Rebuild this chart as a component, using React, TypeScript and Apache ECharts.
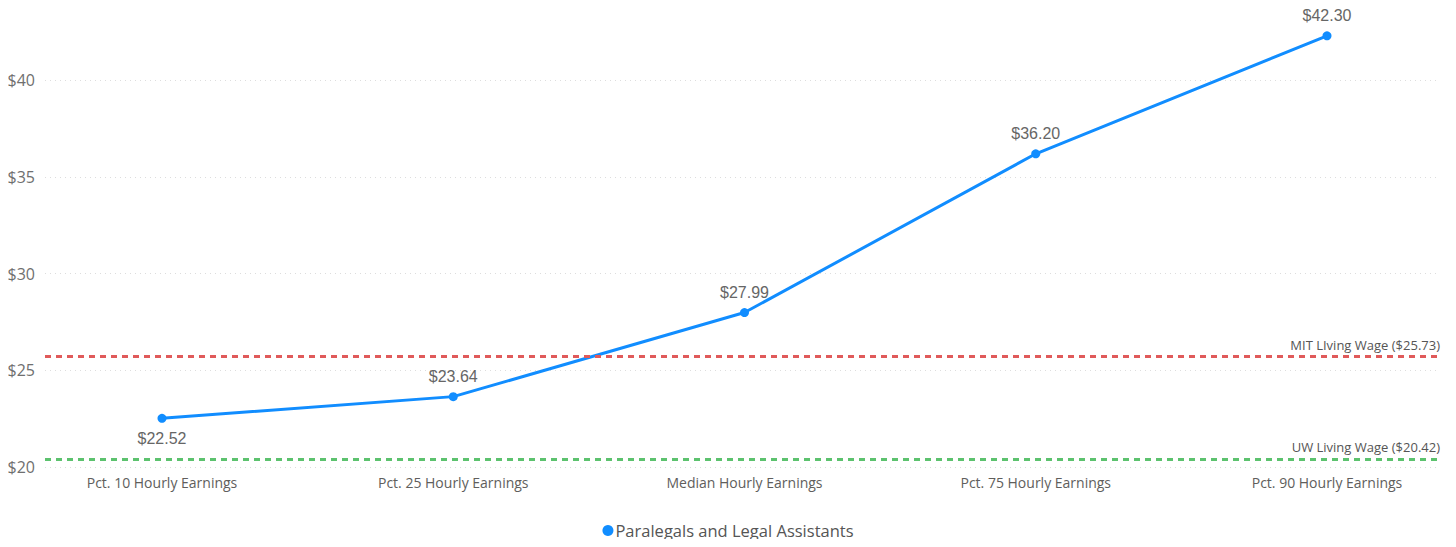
import React, { useEffect, useRef } from "react";
import * as echarts from "echarts";

const categories = [
  "Pct. 10 Hourly Earnings",
  "Pct. 25 Hourly Earnings",
  "Median Hourly Earnings",
  "Pct. 75 Hourly Earnings",
  "Pct. 90 Hourly Earnings",
];
const earnings = [22.52, 23.64, 27.99, 36.2, 42.3];
const seriesName = "Paralegals and Legal Assistants";
const mitWage = 25.73;
const uwWage = 20.42;
const mitLabel = "MIT LIving Wage ($25.73)";
const uwLabel = "UW Living Wage ($20.42)";
const yMin = 20;
const yMax = 44;
const yInterval = 5;

export default function App() {
  const ref = useRef<HTMLDivElement>(null);
  useEffect(() => {
    if (!ref.current) return;
    const chart = echarts.init(ref.current, null, { renderer: "svg" });
    const font = "'Open Sans', 'Noto Sans', sans-serif";
    chart.setOption({
      animation: false,
      grid: [
        { left: 45, right: 16, top: 3, bottom: 80 },
        { left: 162, right: 129, top: 3, bottom: 80 },
      ],
      legend: {
        bottom: 3,
        left: "center",
        icon: "circle",
        itemWidth: 11,
        itemHeight: 11,
        itemGap: 4,
        data: [seriesName],
        textStyle: { fontSize: 16.5, color: "#555", fontFamily: font, padding: [0, 0, 0, -3] },
      },
      xAxis: [
        { type: "value", gridIndex: 0, min: 0, max: 1, show: false },
        {
          type: "category",
          gridIndex: 1,
          data: categories,
          boundaryGap: false,
          axisLine: { show: false },
          axisTick: { show: false },
          axisLabel: { color: "#605E5C", fontSize: 14, fontFamily: font, margin: 8 },
        },
      ],
      yAxis: [
        {
          type: "value",
          gridIndex: 0,
          min: yMin,
          max: yMax,
          interval: yInterval,
          axisLine: { show: false },
          axisTick: { show: false },
          axisLabel: {
            showMaxLabel: false,
            color: "#6f6f6f",
            fontSize: 16,
            fontFamily: font,
            margin: 10,
            formatter: (v: number) => "$" + v,
          },
          splitLine: {
            showMaxLine: false,
            lineStyle: { color: "#ddd", type: [1, 4], width: 1 },
          },
        },
        { type: "value", gridIndex: 1, min: yMin, max: yMax, show: false },
      ],
      series: [
        {
          type: "line",
          xAxisIndex: 0,
          yAxisIndex: 0,
          data: [],
          silent: true,
          markLine: {
            silent: true,
            symbol: ["none", "none"],
            data: [
              {
                yAxis: mitWage,
                lineStyle: { color: "#E05A5A", width: 3, type: [6, 5] },
                label: { formatter: mitLabel },
              },
              {
                yAxis: uwWage,
                lineStyle: { color: "#5CC26E", width: 3, type: [6, 5] },
                label: { formatter: uwLabel },
              },
            ],
            label: {
              position: "insideEndTop",
              color: "#555",
              fontSize: 13,
              fontFamily: font,
              distance: [0, 5],
            },
          },
        },
        {
          name: seriesName,
          type: "line",
          xAxisIndex: 1,
          yAxisIndex: 1,
          data: earnings.map((v, i) => ({
            value: v,
            label: { position: i === 0 ? "bottom" : "top" },
          })),
          symbol: "circle",
          symbolSize: 9,
          itemStyle: { color: "#118DFF" },
          lineStyle: { color: "#118DFF", width: 3 },
          label: {
            show: true,
            distance: 8,
            color: "#666",
            fontSize: 16,
            fontFamily: "'Liberation Sans', Arial, sans-serif",
            formatter: (p: any) => "$" + p.value.toFixed(2),
          },
        },
      ],
    });
    return () => chart.dispose();
  }, []);
  return <div ref={ref} style={{ width: 1456, height: 547, margin: -8 }} />;
}
